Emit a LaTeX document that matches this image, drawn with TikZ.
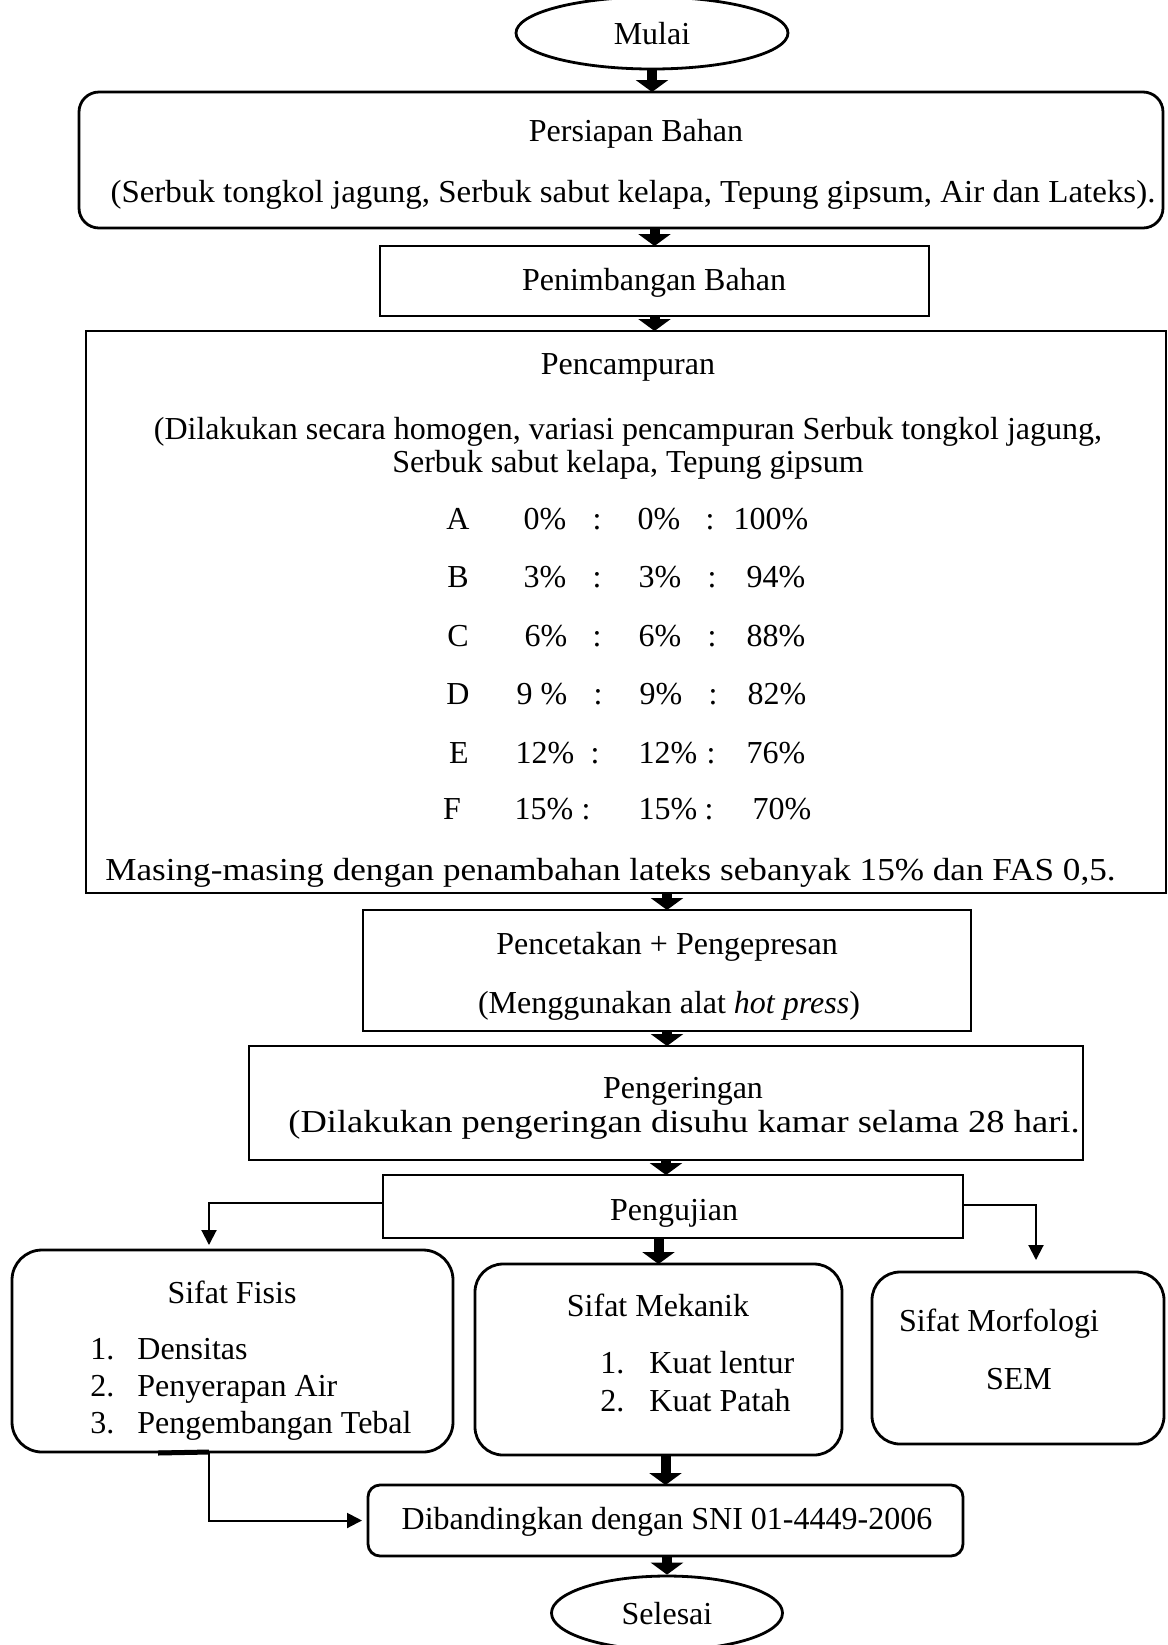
\documentclass[tikz,border=0pt]{standalone}
\usepackage{graphicx}
\usepackage{fontspec}
\setmainfont{Liberation Serif}
\usetikzlibrary{arrows.meta,fit,shapes.geometric}
\begin{document}
\begin{tikzpicture}[x=0.5pt,y=-0.5pt,
  box/.style={draw,line width=1.4pt,inner sep=0pt,outer sep=0pt},
  rbox/.style={box,rounded corners=#1},
  rbox/.default=10pt,
  oval/.style={draw,line width=1.4pt,ellipse,inner sep=0pt},
  txt/.style={inner sep=0pt,text height=1.5ex,text depth=0pt,yshift=-2.1pt,font=\fontsize{16}{19}\selectfont},
  thk/.style={line width=5pt,-{Triangle[width=16pt,length=6pt]}},
  thn/.style={line width=1pt,-{Triangle[width=7.5pt,length=7.5pt]}},
]
\clip (0,0) rectangle (1168,1645);
\fill[white] (0,0) rectangle (1168,1645);

% start
\node[oval,minimum width=136pt,minimum height=36pt] (mulai) at (652,33) {};
\node[txt] (tmulai) at (652,33) {Mulai};

% Persiapan
\node[rbox=10pt,fit={(79,92)(1163,228)}] (persiapan) {};
\node[txt] (tpers1) at (636,130) {Persiapan Bahan};
\node[txt] (tpers2) at (633,191) {\scalebox{1.03}[1]{(Serbuk tongkol jagung, Serbuk sabut kelapa, Tepung gipsum, Air dan Lateks).}};

% Penimbangan
\node[box,fit={(380,246)(929,316)}] (penimbangan) {};
\node[txt] (tpen) at (654,279) {Penimbangan Bahan};

% Pencampuran
\node[box,fit={(86,331)(1166,893)}] (pencampuran) {};
\node[txt] (tcam1) at (628,363) {Pencampuran};
\node[txt] (tcam2) at (628,428) {(Dilakukan secara homogen, variasi pencampuran Serbuk tongkol jagung,};
\node[txt] (tcam3) at (628,461) {Serbuk sabut kelapa, Tepung gipsum};
\foreach \n/\y/\lx/\l/\ax/\at/\cx/\bx/\bt/\dx/\ex/\et in {
  a/518/458/A/545/0\%/597/659/0\%/710/771/100\%,
  b/576/458/B/545/3\%/597/660/3\%/712/776/94\%,
  c/635/458/C/546/6\%/597/660/6\%/712/776/88\%,
  d/693/458/D/542/9 \%/598/661/9\%/713/777/82\%,
  e/752/459/E/545/12\%/595/668/12\%/711/776/76\%,
  f/808/452/F/544/15\%/586/668/15\%/709/782/70\%}{
  \node[txt] (r\n l) at (\lx,\y) {\l};
  \node[txt] (r\n a) at (\ax,\y) {\at};
  \node[txt] (r\n c) at (\cx,\y) {:};
  \node[txt] (r\n b) at (\bx,\y) {\bt};
  \node[txt] (r\n d) at (\dx,\y) {:};
  \node[txt] (r\n e) at (\ex,\y) {\et};
}
\node[txt,anchor=west] (tmasing) at (105,869) {\scalebox{1.098}[1]{Masing-masing dengan penambahan lateks sebanyak 15\% dan FAS 0,5.}};

% Pencetakan
\node[box,fit={(363,910)(971,1031)}] (pencetakan) {};
\node[txt] (tcet1) at (667,943) {Pencetakan + Pengepresan};
\node[txt] (tcet2) at (669,1002) {(Menggunakan alat \textit{hot press})};

% Pengeringan
\node[box,fit={(249,1046)(1083,1160)}] (pengeringan) {};
\node[txt] (tker1) at (683,1087) {Pengeringan};
\node[txt] (tker2) at (684,1121) {\scalebox{1.14}[1]{(Dilakukan pengeringan disuhu kamar selama 28 hari.}};

% Pengujian
\node[box,fit={(383,1175)(963,1238)}] (pengujian) {};
\node[txt] (tuji) at (674,1209) {Pengujian};

% Sifat Fisis
\node[rbox=15pt,fit={(12,1250)(453,1452)}] (fisis) {};
\node[txt] (tfis) at (232,1292) {Sifat Fisis};
\node[txt,anchor=west] (tfis1n) at (90,1348) {1.};
\node[txt,anchor=west] (tfis1) at (137,1348) {Densitas};
\node[txt,anchor=west] (tfis2n) at (90,1385) {2.};
\node[txt,anchor=west] (tfis2) at (137,1385) {Penyerapan Air};
\node[txt,anchor=west] (tfis3n) at (90,1422) {3.};
\node[txt,anchor=west] (tfis3) at (137,1422) {Pengembangan Tebal};

% Sifat Mekanik
\node[rbox=14pt,fit={(475,1264)(842,1455)}] (mekanik) {};
\node[txt] (tmek) at (658,1305) {Sifat Mekanik};
\node[txt,anchor=west] (tmek1n) at (600,1362) {1.};
\node[txt,anchor=west] (tmek1) at (649,1362) {Kuat lentur};
\node[txt,anchor=west] (tmek2n) at (600,1400) {2.};
\node[txt,anchor=west] (tmek2) at (649,1400) {Kuat Patah};

% Sifat Morfologi
\node[rbox=14pt,fit={(872,1272)(1164,1444)}] (morfologi) {};
\node[txt] (tmor) at (999,1320) {Sifat Morfologi};
\node[txt] (tsem) at (1019,1378) {SEM};

% Dibandingkan
\node[rbox=6pt,fit={(368,1485)(963,1556)}] (dib) {};
\node[txt] (tdib) at (667,1518) {Dibandingkan dengan SNI 01-4449-2006};

% end
\node[oval,minimum width=115.5pt,minimum height=37pt] (selesai) at (667,1613) {};
\node[txt] (tselesai) at (667,1613) {Selesai};

% thick arrows
\draw[thk] (mulai.south) -- (mulai.south |- persiapan.north);
\draw[thk] (persiapan.south -| penimbangan.north) -- (penimbangan.north);
\draw[thk] (penimbangan.south) -- (penimbangan.south |- pencampuran.north);
\draw[thk] (pencampuran.south -| pencetakan.north) -- (pencetakan.north);
\draw[thk] (pencetakan.south) -- (pencetakan.south |- pengeringan.north);
\draw[thk] (pengeringan.south) -- (pengeringan.south |- pengujian.north);
\draw[thk] (pengujian.south -| mekanik.north) -- (mekanik.north);
\draw[thk] (mekanik.south -| dib.north) -- (dib.north);
\draw[thk] (dib.south -| selesai.north) -- (selesai.north);

% thin branches
\coordinate (lb) at (209,1203);
\coordinate (rb) at (1036,1205);
\coordinate (fb) at (209,1452);
\draw[thn,shorten >=2.5pt] (pengujian.west |- lb) -- (lb) -- (lb |- fisis.north);
\draw[thn,shorten >=6pt] (pengujian.east |- rb) -- (rb) -- (rb |- morfologi.north);
\draw[line width=2.5pt] (158,1453) -- (fb |- fisis.south);
\draw[thn,shorten >=3pt] (fb |- fisis.south) -- (fb |- dib.west) -- (dib.west);
\end{tikzpicture}
\end{document}
